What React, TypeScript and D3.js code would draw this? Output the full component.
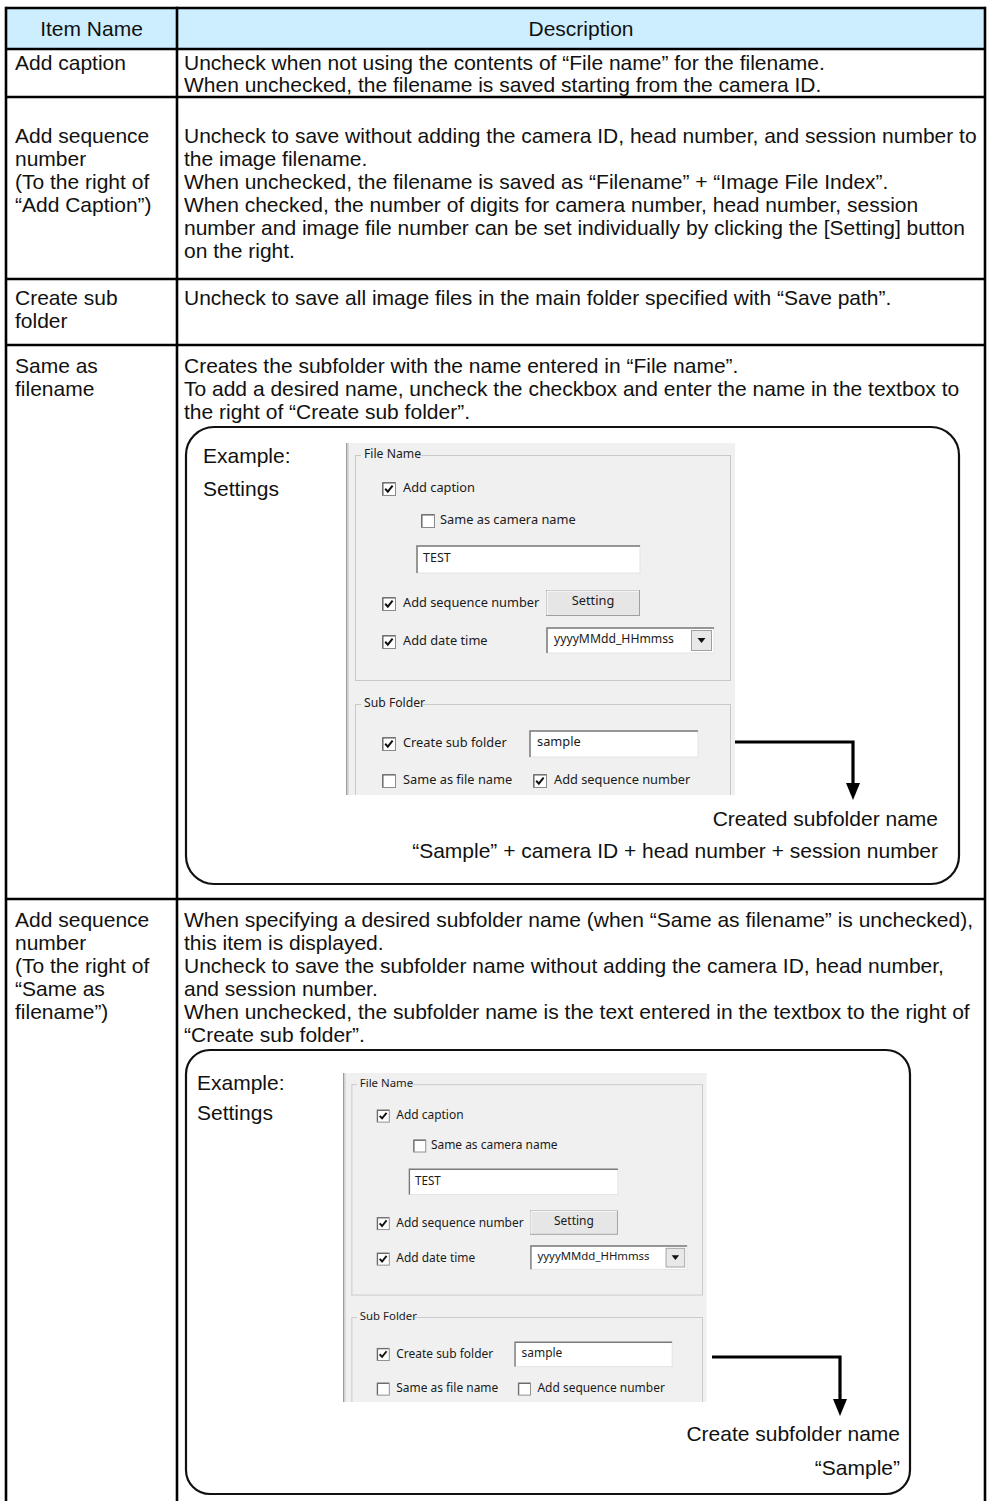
import * as d3 from 'd3'

// ---- table content ----
const headerLabels = ['Item Name', 'Description']

const itemNames = [
  ['Add caption'],
  ['Add sequence', 'number', '(To the right of', '“Add Caption”)'],
  ['Create sub', 'folder'],
  ['Same as', 'filename'],
  ['Add sequence', 'number', '(To the right of', '“Same as', 'filename”)'],
]

const descriptions = [
  [
    'Uncheck when not using the contents of “File name” for the filename.',
    'When unchecked, the filename is saved starting from the camera ID.',
  ],
  [
    'Uncheck to save without adding the camera ID, head number, and session number to',
    'the image filename.',
    'When unchecked, the filename is saved as “Filename” + “Image File Index”.',
    'When checked, the number of digits for camera number, head number, session',
    'number and image file number can be set individually by clicking the [Setting] button',
    'on the right.',
  ],
  ['Uncheck to save all image files in the main folder specified with “Save path”.'],
  [
    'Creates the subfolder with the name entered in “File name”.',
    'To add a desired name, uncheck the checkbox and enter the name in the textbox to',
    'the right of “Create sub folder”.',
  ],
  [
    'When specifying a desired subfolder name (when “Same as filename” is unchecked),',
    'this item is displayed.',
    'Uncheck to save the subfolder name without adding the camera ID, head number,',
    'and session number.',
    'When unchecked, the subfolder name is the text entered in the textbox to the right of',
    '“Create sub folder”.',
  ],
]

// ---- example boxes ----
const exampleLabels = ['Example:', 'Settings']
const resultCaptions = [
  ['Created subfolder name', '“Sample” + camera ID + head number + session number'],
  ['Create subfolder name', '“Sample”'],
]

// ---- dialog screenshot content ----
const groupTitles = ['File Name', 'Sub Folder']
const fileNameChecks = ['Add caption', 'Same as camera name', 'Add sequence number', 'Add date time']
const fileNameChecked = [true, false, true, true]
const subFolderChecks = ['Create sub folder', 'Same as file name', 'Add sequence number']
const subFolderChecked = [
  [true, false, true],
  [true, false, false],
]
const captionText = 'TEST'
const subFolderText = 'sample'
const dateFormat = 'yyyyMMdd_HHmmss'
const settingButton = 'Setting'

// ---- layout ----
const W = 989
const H = 1501
const FONT = '"Liberation Sans", Arial, sans-serif'
const UI_FONT = '"Noto Sans", sans-serif'
const FS = 21

const tableLeft = 6
const tableRight = 985
const colSplit = 177
const rowEdges = [8, 49, 97, 279, 345, 899, 1540]
const rowBaselines = [70, 143, 305, 373, 927]
const rowLineGap = [22, 23, 23, 23, 23]

const boxes = [
  { x0: 186, y0: 427, x1: 959, y1: 884, r: 28, labX: 203, labY: 463, labGap: 33, capX: 938, capY: 826, capGap: 32 },
  { x0: 186, y0: 1050, x1: 910, y1: 1494, r: 24, labX: 197, labY: 1090, labGap: 30, capX: 900, capY: 1441, capGap: 34 },
]
const shots = [
  { x: 346, y: 443, k: 1 },
  { x: 343, y: 1073, k: 0.935 },
]
const arrows = [
  { x0: 735, y: 742, x1: 853, y2: 800 },
  { x0: 712, y: 1357, x1: 840, y2: 1416 },
]

const roundedBox = (x0: number, y0: number, x1: number, y1: number, r: number) => {
  const p = d3.path()
  p.moveTo(x0 + r, y0)
  p.lineTo(x1 - r, y0)
  p.arcTo(x1, y0, x1, y0 + r, r)
  p.lineTo(x1, y1 - r)
  p.arcTo(x1, y1, x1 - r, y1, r)
  p.lineTo(x0 + r, y1)
  p.arcTo(x0, y1, x0, y1 - r, r)
  p.lineTo(x0, y0 + r)
  p.arcTo(x0, y0, x0 + r, y0, r)
  p.closePath()
  return p.toString()
}

const line = d3.line<[number, number]>()

const CheckBox = ({ x, y, checked }: { x: number; y: number; checked: boolean }) => (
  <g transform={`translate(${x},${y})`}>
    <rect x={0.5} y={0.5} width={13} height={13} fill="#fff" stroke="#8a8a8a" />
    <path d="M1,1 H13 M1,1 V13" stroke="#5a5a5a" strokeWidth={1} fill="none" />
    {checked && <path d="M3.2,6.8 L5.8,9.6 L10.6,3.6" stroke="#111" strokeWidth={2} fill="none" />}
  </g>
)

const Sunken = ({ x, y, w, h }: { x: number; y: number; w: number; h: number }) => (
  <g>
    <rect x={x} y={y} width={w} height={h} fill="#fff" stroke="#e3e3e3" />
    <path d={`M${x},${y + h} V${y} H${x + w}`} stroke="#7a7a7a" strokeWidth={1.5} fill="none" />
  </g>
)

const Label = ({ x, y, text, size = 12.8 }: { x: number; y: number; text: string; size?: number }) => (
  <text x={x} y={y} fontFamily={UI_FONT} fontSize={size} fill="#1a1a1a" dominantBaseline="middle">
    {text}
  </text>
)

const Dialog = ({ idx }: { idx: number }) => {
  const s = shots[idx]
  const clipId = `shot-clip-${idx}`
  const subChecked = subFolderChecked[idx]
  return (
    <g transform={`translate(${s.x},${s.y}) scale(${s.k})`}>
      <defs>
        <clipPath id={clipId}>
          <rect x={0} y={0} width={389} height={352} />
        </clipPath>
      </defs>
      <g clipPath={`url(#${clipId})`}>
        <rect x={0} y={0} width={389} height={352} fill="#f0f0f0" />
        <rect x={0} y={0} width={1.5} height={352} fill="#9c9c9c" />
        <rect x={1.5} y={0} width={1.5} height={352} fill="#d8d8d8" />
        {/* File Name group */}
        <rect x={9.5} y={12.5} width={375} height={225} fill="none" stroke="#c8c8c8" />
        <rect x={15} y={4} width={56} height={16} fill="#f0f0f0" />
        <Label x={18} y={12} text={groupTitles[0]} size={12.2} />
        <CheckBox x={36} y={39} checked={fileNameChecked[0]} />
        <Label x={57} y={46} text={fileNameChecks[0]} />
        <CheckBox x={75} y={71} checked={fileNameChecked[1]} />
        <Label x={94} y={78} text={fileNameChecks[1]} />
        <Sunken x={71} y={103} w={223} h={27} />
        <Label x={77} y={116} text={captionText} size={12.5} />
        <CheckBox x={36} y={154} checked={fileNameChecked[2]} />
        <Label x={57} y={161} text={fileNameChecks[2]} />
        <rect x={200.5} y={147.5} width={93} height={25} fill="#e6e6e6" stroke="#9f9f9f" />
        <path d="M201,172 V148 H293" stroke="#fff" fill="none" />
        <text x={247} y={159} fontFamily={UI_FONT} fontSize={12.8} textAnchor="middle" dominantBaseline="middle" fill="#1a1a1a">
          {settingButton}
        </text>
        <CheckBox x={36} y={192} checked={fileNameChecked[3]} />
        <Label x={57} y={199} text={fileNameChecks[3]} />
        <Sunken x={201} y={185} w={167} h={25} />
        <Label x={208} y={197} text={dateFormat} size={12.2} />
        <rect x={345.5} y={187.5} width={20} height={20} fill="#e8e8e8" stroke="#a0a0a0" />
        <path d="M351.5,195 L359.5,195 L355.5,200 Z" fill="#111" />
        {/* Sub Folder group */}
        <rect x={9.5} y={261.5} width={375} height={140} fill="none" stroke="#c8c8c8" />
        <rect x={15} y={253} width={62} height={16} fill="#f0f0f0" />
        <Label x={18} y={261} text={groupTitles[1]} size={12.2} />
        <CheckBox x={36} y={294} checked={subChecked[0]} />
        <Label x={57} y={301} text={subFolderChecks[0]} />
        <Sunken x={184} y={288} w={168} h={26} />
        <Label x={191} y={300} text={subFolderText} />
        <CheckBox x={36} y={331} checked={subChecked[1]} />
        <Label x={57} y={338} text={subFolderChecks[1]} />
        <CheckBox x={187} y={331} checked={subChecked[2]} />
        <Label x={208} y={338} text={subFolderChecks[2]} />
      </g>
    </g>
  )
}

export default function App() {
  return (
    <svg width={W} height={H} viewBox={`0 0 ${W} ${H}`} style={{ display: 'block', position: 'absolute', left: 0, top: 0 }}>
      <rect x={0} y={0} width={W} height={H} fill="#fff" />
      {/* header band */}
      <rect x={tableLeft} y={rowEdges[0]} width={tableRight - tableLeft} height={rowEdges[1] - rowEdges[0]} fill="#cdeeff" />
      {/* grid */}
      {rowEdges.slice(0, -1).map((y, i) => (
        <line key={`h${i}`} x1={tableLeft} x2={tableRight} y1={y} y2={y} stroke="#000" strokeWidth={2.6} />
      ))}
      {[tableLeft, colSplit, tableRight].map((x, i) => (
        <line key={`v${i}`} x1={x} x2={x} y1={rowEdges[0] - 1.3} y2={H} stroke="#000" strokeWidth={2.6} />
      ))}
      {/* header text */}
      <g fontFamily={FONT} fontSize={FS} fill="#111" textAnchor="middle">
        <text x={(tableLeft + colSplit) / 2} y={36}>{headerLabels[0]}</text>
        <text x={(colSplit + tableRight) / 2} y={36}>{headerLabels[1]}</text>
      </g>
      {/* body text */}
      <g fontFamily={FONT} fontSize={FS} fill="#111">
        {itemNames.map((lines, r) =>
          lines.map((t, j) => (
            <text key={`n${r}-${j}`} x={15} y={rowBaselines[r] + j * rowLineGap[r]}>{t}</text>
          ))
        )}
        {descriptions.map((lines, r) =>
          lines.map((t, j) => (
            <text key={`d${r}-${j}`} x={184} y={rowBaselines[r] + j * rowLineGap[r]}>{t}</text>
          ))
        )}
      </g>
      {/* example boxes */}
      {boxes.map((b, i) => (
        <g key={`box${i}`}>
          <path d={roundedBox(b.x0, b.y0, b.x1, b.y1, b.r)} fill="none" stroke="#111" strokeWidth={2.2} />
          <g fontFamily={FONT} fontSize={FS} fill="#111">
            <text x={b.labX} y={b.labY}>{exampleLabels[0]}</text>
            <text x={b.labX} y={b.labY + b.labGap}>{exampleLabels[1]}</text>
            <text x={b.capX} y={b.capY} textAnchor="end">{resultCaptions[i][0]}</text>
            <text x={b.capX} y={b.capY + b.capGap} textAnchor="end">{resultCaptions[i][1]}</text>
          </g>
          <Dialog idx={i} />
        </g>
      ))}
      {/* arrows */}
      {arrows.map((a, i) => (
        <g key={`ar${i}`}>
          <path
            d={line([[a.x0, a.y], [a.x1, a.y], [a.x1, a.y2 - 14]]) ?? ''}
            fill="none"
            stroke="#000"
            strokeWidth={3.2}
          />
          <path d={`M${a.x1 - 7},${a.y2 - 17} L${a.x1 + 7},${a.y2 - 17} L${a.x1},${a.y2} Z`} fill="#000" />
        </g>
      ))}
    </svg>
  )
}
